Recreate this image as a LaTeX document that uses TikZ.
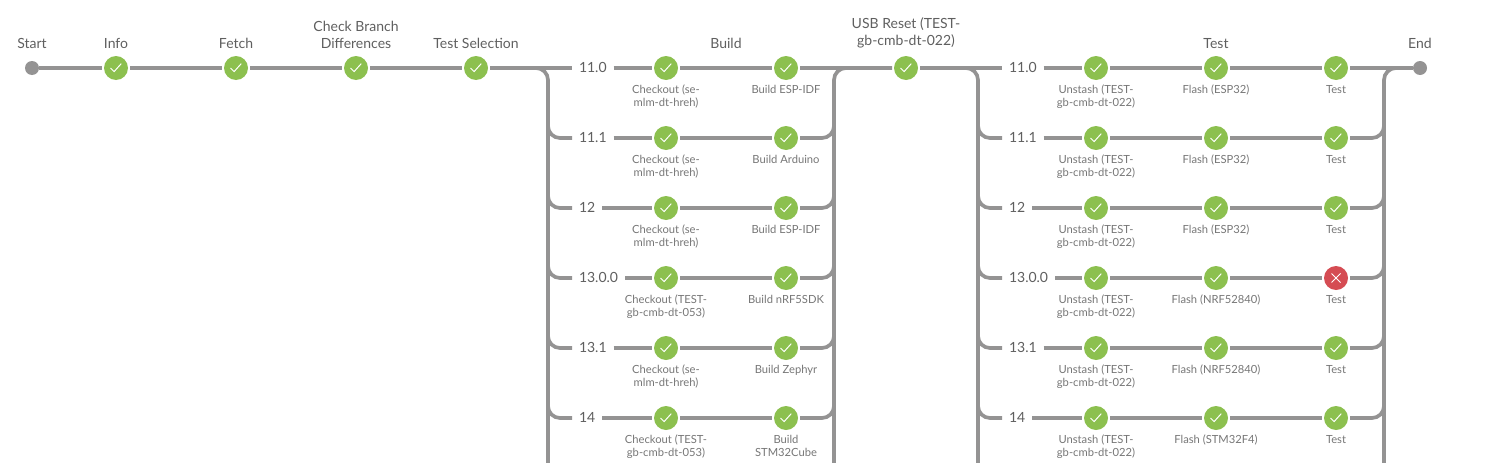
\documentclass[tikz,border=0pt]{standalone}
\usepackage{fontspec}
\setmainfont{Lato}
\definecolor{okgreen}{HTML}{8CC04F}
\definecolor{failred}{HTML}{D54C53}
\definecolor{pipegray}{HTML}{949393}
\definecolor{labelgray}{HTML}{5F5F5F}
\definecolor{sublabelgray}{HTML}{767676}
\tikzset{
	pipe/.style={line width=3.7pt,color=pipegray,rounded corners=12pt},
	stage/.style={circle,minimum size=24pt,inner sep=0pt,outer sep=2pt,
		label={[sublabel]below:#1}},
	ok/.style={stage={#1},fill=okgreen,path picture={
		\draw[white,line width=1pt] ([shift={(-5.5pt,0pt)}]path picture bounding box.center)
			--++(3.6pt,-3.6pt)--++(7.2pt,8pt);}},
	fail/.style={stage={#1},fill=failred,path picture={
		\draw[white,line width=1pt] ([shift={(-4.5pt,-4.5pt)}]path picture bounding box.center)--++(9pt,9pt)
			([shift={(-4.5pt,4.5pt)}]path picture bounding box.center)--++(9pt,-9pt);}},
	endpoint/.style={circle,fill=pipegray,minimum size=14pt,inner sep=0pt},
	title/.style={font=\fontsize{14}{17}\selectfont,text=labelgray,align=center,anchor=south,inner sep=0pt},
	sublabel/.style={font=\fontsize{11.2}{13}\selectfont,text=sublabelgray,align=center,inner sep=0pt,yshift=-3pt},
	version/.style={font=\fontsize{14}{16}\selectfont,text=labelgray,inner sep=0pt,outer sep=7pt,anchor=west,text depth=1.5pt}
}
\begin{document}
\begin{tikzpicture}[x=1pt,y=-1pt]
	\useasboundingbox (0,0) rectangle (1507,463);
	% top line
	\node[endpoint] (start) at (32,68) {};
	\node[ok={}] (info) at (116,68) {};
	\node[ok={}] (fetch) at (236,68) {};
	\node[ok={}] (diff) at (356,68) {};
	\node[ok={}] (select) at (476,68) {};
	\node[ok={}] (reset) at (906,68) {};
	\node[endpoint] (end) at (1420,68) {};
	\node[title] at (32,48.5) {Start};
	\node[title] at (116,48.5) {Info};
	\node[title] at (236,48.5) {Fetch};
	\node[title] at (356,48.5) {Check Branch\\Differences};
	\node[title] at (476,48.5) {Test Selection};
	\node[title] at (726,48.5) {Build};
	\node[title] at (906,48.5) {USB Reset (TEST-\\gb-cmb-dt-022)};
	\node[title] at (1216,48.5) {Test};
	\node[title] at (1420,48.5) {End};
	\draw[pipe] (start)--(info);
	\draw[pipe] (info)--(fetch);
	\draw[pipe] (fetch)--(diff);
	\draw[pipe] (diff)--(select);
	% bus lines
	\coordinate (busa) at (548,68);
	\coordinate (busb) at (834,68);
	\coordinate (busc) at (978,68);
	\coordinate (busd) at (1384,68);
	\coordinate (bottom) at (0,463);
	\draw[pipe] (select)--(busa)--(busa|-bottom);
	\draw[pipe] (reset)--(busb)--(busb|-bottom);
	\draw[pipe] (reset)--(busc)--(busc|-bottom);
	\draw[pipe] (end)--(busd)--(busd|-bottom);
	% one row of each block
	\foreach \i/\y/\ver/\co/\bld/\fl/\res in {
		1/68/11.0/{Checkout (se-\\mlm-dt-hreh)}/{Build ESP-IDF}/{Flash (ESP32)}/ok,
		2/138/11.1/{Checkout (se-\\mlm-dt-hreh)}/{Build Arduino}/{Flash (ESP32)}/ok,
		3/208/12/{Checkout (se-\\mlm-dt-hreh)}/{Build ESP-IDF}/{Flash (ESP32)}/ok,
		4/278/13.0.0/{Checkout (TEST-\\gb-cmb-dt-053)}/{Build nRF5SDK}/{Flash (NRF52840)}/fail,
		5/348/13.1/{Checkout (se-\\mlm-dt-hreh)}/{Build Zephyr}/{Flash (NRF52840)}/ok,
		6/418/14/{Checkout (TEST-\\gb-cmb-dt-053)}/{Build\\STM32Cube}/{Flash (STM32F4)}/ok}{
		\node[version] (vera\i) at (572,\y) {\ver};
		\node[ok={\co}] (co\i) at (666,\y) {};
		\node[ok={\bld}] (bld\i) at (786,\y) {};
		\node[version] (verb\i) at (1002,\y) {\ver};
		\node[ok={Unstash (TEST-\\gb-cmb-dt-022)}] (un\i) at (1096,\y) {};
		\node[ok={\fl}] (fl\i) at (1216,\y) {};
		\node[\res={Test}] (test\i) at (1336,\y) {};
		\draw[pipe] (vera\i)--(co\i);
		\draw[pipe] (co\i)--(bld\i);
		\draw[pipe] (verb\i)--(un\i);
		\draw[pipe] (un\i)--(fl\i);
		\draw[pipe] (fl\i)--(test\i);
	}
	% the first row runs straight into the stages
	\draw[pipe] (select)--(vera1);
	\draw[pipe] (bld1)--(reset);
	\draw[pipe] (reset)--(verb1);
	\draw[pipe] (test1)--(end);
	% branches
	\foreach \i/\y in {2/138,3/208,4/278,5/348,6/418}{
		\coordinate (a\i) at (548,\y-14);
		\coordinate (b\i) at (834,\y-14);
		\coordinate (c\i) at (978,\y-14);
		\coordinate (d\i) at (1384,\y-14);
		\draw[pipe] (a\i)--(a\i|-vera\i)--(vera\i);
		\draw[pipe] (b\i)--(b\i|-bld\i)--(bld\i);
		\draw[pipe] (c\i)--(c\i|-verb\i)--(verb\i);
		\draw[pipe] (d\i)--(d\i|-test\i)--(test\i);
	}
\end{tikzpicture}
\end{document}
